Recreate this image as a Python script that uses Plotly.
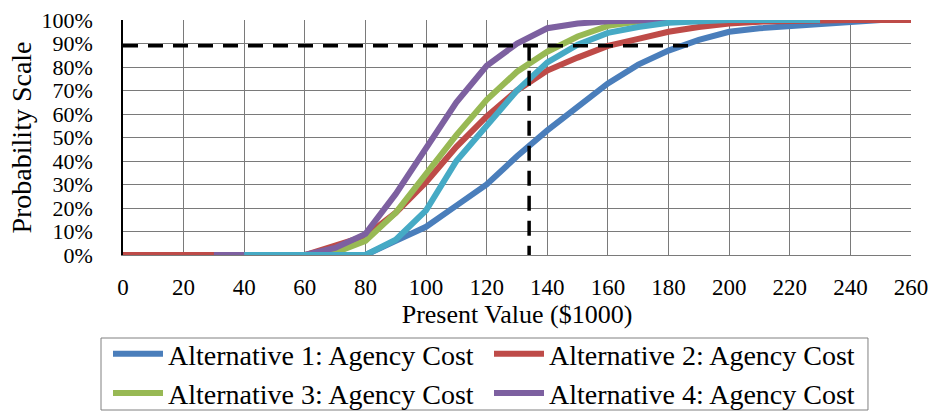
import plotly.graph_objects as go

# ---- data (Present Value in $1000, cumulative probability in %) ----
alt1_x = [40, 50, 60, 70, 80, 90, 100, 110, 120, 130, 140, 150, 160, 170, 180, 190, 200, 210, 220, 230, 240, 250]
alt1_y = [0, 0, 0, 0, 0, 6, 12, 21, 30, 42, 53, 63, 73, 81, 87, 91.5, 95, 96.5, 97.5, 98.5, 99.5, 100]

alt2_x = [0, 10, 20, 30, 40, 50, 60, 70, 80, 90, 100, 110, 120, 130, 140, 150, 160, 170, 180, 190, 200, 210, 220, 230, 240, 250, 260]
alt2_y = [0, 0, 0, 0, 0, 0, 0, 4, 8, 18, 31, 46, 59, 70, 78.5, 84, 89, 92, 95, 97, 98.5, 99.3, 99.7, 100, 100, 100, 100]

alt3_x = [40, 50, 60, 70, 80, 90, 100, 110, 120, 130, 140, 150, 160, 170, 180, 190, 200]
alt3_y = [0, 0, 0, 1, 6, 18, 35, 51, 66, 78, 86.5, 93, 97.5, 99.3, 100, 100, 100]

alt4_x = [30, 40, 50, 60, 70, 80, 90, 100, 110, 120, 130, 140, 150, 160, 170, 180, 190, 200]
alt4_y = [0, 0, 0, 0, 3, 9, 26, 46, 65, 80.5, 90, 96.5, 98.5, 99.5, 100, 100, 100, 100]

alt5_x = [40, 50, 60, 70, 80, 90, 100, 110, 120, 130, 140, 150, 160, 170, 180, 190, 200, 210, 220, 230]
alt5_y = [0, 0, 0, 0, 0, 6.5, 19, 40, 55, 70, 82, 89.5, 94.5, 97, 98.8, 99.5, 100, 100, 100, 100]

names = ["Alternative 1: Agency Cost", "Alternative 2: Agency Cost",
         "Alternative 3: Agency Cost", "Alternative 4: Agency Cost"]

# reference lines (target probability / value)
ref_prob = 89
ref_value = 134
ref_hline_end = 189

x_ticks = list(range(0, 261, 20))
y_ticks = list(range(0, 101, 10))
y_ticklabels = [f"{v}%" for v in y_ticks]

colors = ["#4A7EBB", "#BE4B48", "#98B954", "#7D60A0", "#46AAC5"]
FONT = "Liberation Serif, Times New Roman, serif"

fig = go.Figure()
series = [(alt1_x, alt1_y, names[0], True),
          (alt2_x, alt2_y, names[1], True),
          (alt3_x, alt3_y, names[2], True),
          (alt4_x, alt4_y, names[3], True),
          (alt5_x, alt5_y, "Alternative 5", False)]
for (xs, ys, nm, show), c in zip(series, colors):
    fig.add_trace(go.Scatter(x=xs, y=ys, mode="lines", name=nm, showlegend=show,
                             line=dict(color=c, width=6), cliponaxis=False))

fig.add_trace(go.Scatter(x=[0, ref_hline_end, None, ref_value, ref_value],
                         y=[ref_prob, ref_prob, None, ref_prob, 0],
                         mode="lines", showlegend=False, connectgaps=False,
                         line=dict(color="black", width=3.5, dash="15px,10px")))

# legend frame (drawn as a shape so its padding matches the original)
fig.add_shape(type="rect", xref="paper", yref="paper",
              x0=-0.0279, x1=0.9454, y0=-0.6596, y1=-0.3532,
              line=dict(color="#808080", width=1), fillcolor="rgba(0,0,0,0)", layer="above")

fig.update_layout(
    width=937, height=412,
    margin=dict(l=123, r=26, t=20, b=157, autoexpand=False),
    paper_bgcolor="white", plot_bgcolor="white",
    font=dict(family=FONT, size=24, color="black"),
    showlegend=True,
    legend=dict(orientation="h", xref="container", yref="container",
                x=108 / 937, xanchor="left", y=1 - 329 / 412, yanchor="top",
                borderwidth=0, bgcolor="rgba(0,0,0,0)",
                font=dict(family=FONT, size=28, color="black"),
                entrywidth=316, entrywidthmode="pixels",
                tracegroupgap=0, itemwidth=50),
    xaxis=dict(range=[0, 260], tickvals=x_ticks, showgrid=True, gridcolor="#7a7a7a", gridwidth=1,
               zeroline=False, showline=True, linecolor="#7a7a7a", mirror=False,
               ticks="", automargin=False, ticklabelstandoff=11,
               tickfont=dict(family=FONT, size=23, color="black"),
               title=dict(text="Present Value ($1000)", font=dict(family=FONT, size=26, color="black"),
                          standoff=4)),
    yaxis=dict(range=[0, 100], tickvals=y_ticks, ticktext=y_ticklabels, showgrid=True,
               gridcolor="#7a7a7a", gridwidth=1, zeroline=False, showline=True,
               linecolor="black", linewidth=1.5, ticks="", automargin=False,
               tickfont=dict(family=FONT, size=22, color="black"),
               ticklabelstandoff=24,
               title=dict(text="Probability Scale", font=dict(family=FONT, size=28, color="black"),
                          standoff=2)),
)

fig.write_html("out.html", config={"displayModeBar": False},
               post_script="document.body.style.margin='0';")
